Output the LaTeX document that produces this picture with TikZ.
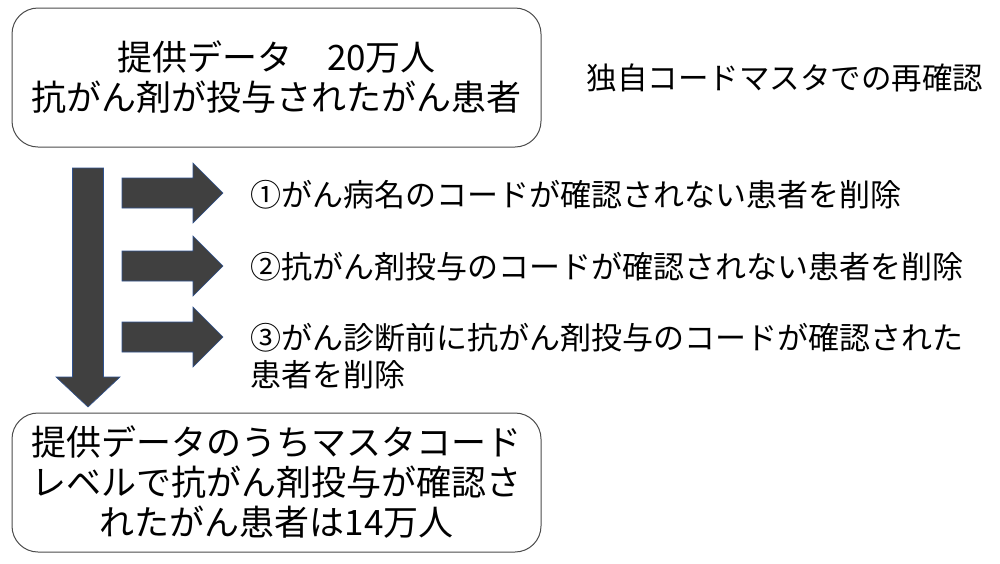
\documentclass[tikz,border=0pt]{standalone}
\usepackage{fontspec}
\setmainfont{Noto Sans CJK JP}
\definecolor{arrowedge}{HTML}{2F528F}
\tikzset{
  roundbox/.style={draw=black!70, line width=1pt, rounded corners=26pt, fill=white,
    align=center, inner sep=0pt, font=\fontsize{35}{40}\selectfont},
  blockarrow/.style={fill=black!75, draw=arrowedge, line width=0.6pt},
  stepnote/.style={anchor=west, inner sep=0pt, align=left, font=\fontsize{31}{37}\selectfont},
}
\begin{document}
\begin{tikzpicture}[x=1pt,y=-1pt]
\useasboundingbox (0,0) rectangle (1000,563);
\fill[white] (0,0) rectangle (1000,563);

% boxes
\node[roundbox, minimum width=529pt, minimum height=139pt] (top) at (276.5,77.5)
  {提供データ　20万人\\抗がん剤が投与されたがん患者};
\node[roundbox, minimum width=529pt, minimum height=139pt] (bottom) at (276.5,482.5)
  {提供データのうちマスタコード\\レベルで抗がん剤投与が確認さ\\れたがん患者は14万人};

\node[anchor=center, inner sep=0pt, font=\fontsize{30.5}{36}\selectfont] (recheck) at (785,78)
  {独自コードマスタでの再確認};

% step notes
\node[stepnote] (s1) at (250,195) {①がん病名のコードが確認されない患者を削除};
\node[stepnote] (s2) at (250,267) {②抗がん剤投与のコードが確認されない患者を削除};
\node[stepnote] (s3) at (250,356) {③がん診断前に抗がん剤投与のコードが確認された\\患者を削除};

% down arrow
\draw[blockarrow] (72.5,168) -- (103.5,168) -- (103.5,377) -- (120,377) -- (88,407)
  -- (56,377) -- (72.5,377) -- cycle;

% right arrows
\foreach \cy in {193,266,337}{
  \draw[blockarrow] (122,\cy-15) -- (193,\cy-15) -- (193,\cy-30) -- (223,\cy)
    -- (193,\cy+30) -- (193,\cy+15) -- (122,\cy+15) -- cycle;
}
\end{tikzpicture}
\end{document}
